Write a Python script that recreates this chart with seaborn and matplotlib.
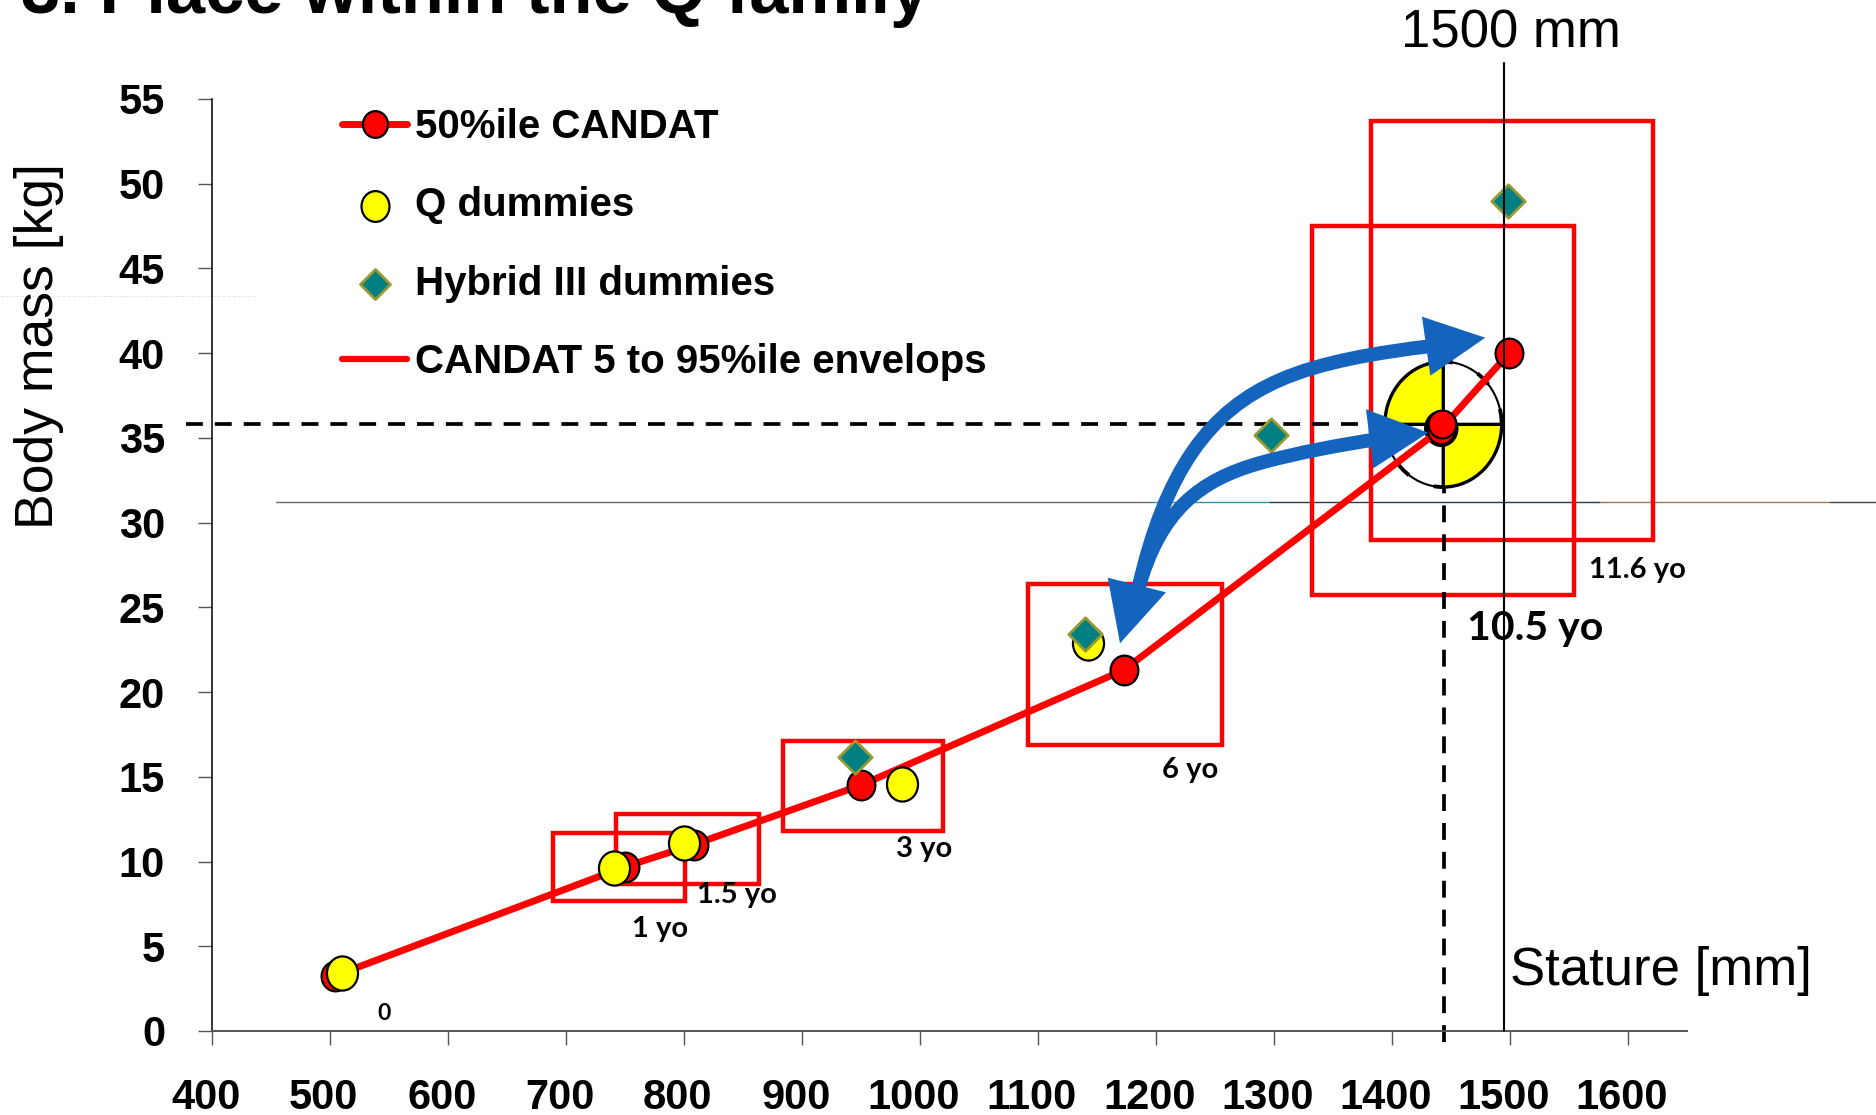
import numpy as np
import pandas as pd
import matplotlib
matplotlib.use('Agg')
import matplotlib.pyplot as plt
import matplotlib.transforms as mtransforms
from matplotlib.lines import Line2D
from matplotlib.markers import MarkerStyle
from matplotlib.patches import Rectangle, Ellipse, Wedge, Arc, PathPatch, Polygon
from matplotlib.path import Path
import seaborn as sns

# values
candat_stature = [504, 750, 808, 949.5, 1172.4, 1441, 1499]
candat_mass = [3.26, 9.7, 11.0, 14.5, 21.3, 35.5, 40.0]
q_stature = [510, 740, 799.5, 984.5, 1142]
q_mass = [3.4, 9.6, 11.1, 14.6, 22.9]
hybrid_stature = [944.3, 1139.4, 1296.8, 1498.3]
hybrid_mass = [16.15, 23.4, 35.2, 49.0]
q10_stature = [1441.9]
q10_mass = [35.8]

# envelope boxes: 1, 1.5, 3, 6, 10.5, 11.6 yo
env_x_min = [689, 742, 883.4, 1091.5, 1332, 1382]
env_x_max = [800.8, 863.5, 1019.6, 1255.4, 1554, 1621]
env_y_min = [7.7, 8.7, 11.8, 16.9, 25.75, 29.0]
env_y_max = [11.7, 12.8, 17.1, 26.4, 47.5, 53.7]

x_ticks = list(range(400, 1700, 100))
y_ticks = list(range(0, 60, 5))

sns.set_theme(style='white')
plt.rcParams['font.family'] = ['Liberation Sans', 'DejaVu Sans']

W, H = 1876, 1115
RED = '#ff0000'
BLUE = '#1464be'
YELLOW = '#ffff00'
TEAL = '#008080'
OLIVE = '#999933'

fig = plt.figure(figsize=(W / 100, H / 100), dpi=100, facecolor='white')
ax = fig.add_axes([212.3 / W, (H - 1031) / H, 1475 / W, 932 / H])
ax.set_xlim(400, 1650)
ax.set_ylim(0, 55)

# annotation coordinates are given in image pixels, y going down
px = mtransforms.Affine2D().scale(1 / W, -1 / H).translate(0, 1) + fig.transFigure

# envelope boxes
for x0, x1, y0, y1 in zip(env_x_min, env_x_max, env_y_min, env_y_max):
    ax.add_patch(Rectangle((x0, y0), x1 - x0, y1 - y0, fill=False, edgecolor=RED,
                           linewidth=3.2, joinstyle='miter', zorder=2))

# stray thin lines left over in the slide
ax.plot([276, 1150], [502, 502], transform=px, color='#666666', lw=1, clip_on=False, zorder=1)
ax.plot([1150, 1270], [502, 502], transform=px, color='#2f95a8', lw=1, clip_on=False, zorder=1)
ax.plot([1270, 1600], [502, 502], transform=px, color='#2c3a45', lw=1, clip_on=False, zorder=1)
ax.plot([1600, 1830], [502, 502], transform=px, color='#a07a50', lw=1, clip_on=False, zorder=1)
ax.plot([1830, 1876], [502, 502], transform=px, color='#444444', lw=1, clip_on=False, zorder=1)
ax.plot([0, 255], [296, 296], transform=px, color='#e6e6e6', lw=0.7, ls='--', clip_on=False, zorder=1)

# dashed guides
ax.plot([378, 1441], [35.8, 35.8], color='black', lw=2.7, ls=(0, (4.5, 3.2)),
        dash_capstyle='butt', clip_on=False, zorder=2.5)

# crash-test target for the 10.5 yo
cx, cy, rx, ry = 1443.2, 35.8, 49.5, 3.7
target = mtransforms.Affine2D().scale(rx, ry).translate(cx, cy) + ax.transData
for a, b in [(90, 180), (270, 360)]:
    ax.add_patch(Wedge((0, 0), 1, a, b, facecolor=YELLOW, edgecolor='black',
                       linewidth=2.4, transform=target, zorder=2.6))
for a, b in [(0, 90), (180, 270)]:
    ax.add_patch(Arc((0, 0), 2, 2, theta1=a, theta2=b, edgecolor='black',
                     linewidth=1.5, transform=target, zorder=2.6))
    ax.add_patch(Arc((0, 0), 2, 2, theta1=a, theta2=b, edgecolor='black', linewidth=2.8,
                     ls=(0, (4, 7)), transform=target, zorder=2.6))
ax.add_patch(Ellipse((1441.5, 35.55), 28, 2.1, facecolor='black', edgecolor='black', zorder=2.7))

ax.plot([1444.2, 1444.2], [-0.65, 35.8], color='black', lw=2.7, ls=(0, (4.5, 3.2)),
        dash_capstyle='butt', clip_on=False, zorder=2.5)

# series
sns.lineplot(x=candat_stature, y=candat_mass, ax=ax, estimator=None, sort=False, color=RED,
             linewidth=5, marker=MarkerStyle('o', transform=mtransforms.Affine2D().scale(1, 1.07)),
             markersize=20, markerfacecolor=RED, markeredgecolor='black', markeredgewidth=1.6,
             label='50%ile CANDAT', zorder=3)
sns.scatterplot(x=q10_stature, y=q10_mass, ax=ax, color=RED, edgecolor='black', linewidth=1.6,
                s=400, zorder=3.1, legend=False)
sns.scatterplot(x=q_stature, y=q_mass, ax=ax, color=YELLOW, edgecolor='black', linewidth=1.6,
                marker=MarkerStyle('o', transform=mtransforms.Affine2D().scale(1, 1.1)),
                s=500, zorder=4, label='Q dummies')
sns.scatterplot(x=hybrid_stature, y=hybrid_mass, ax=ax, color=TEAL, edgecolor=OLIVE, linewidth=2,
                marker='D', s=290, zorder=5, label='Hybrid III dummies')

# blue double arrow
arrow_upper = Path([(1138, 590), (1165, 470), (1210, 410), (1280, 380),
                    (1320, 362), (1380, 352), (1432, 346)],
                   [Path.MOVETO] + [Path.CURVE4] * 6)
arrow_lower = Path([(1138, 590), (1160, 510), (1200, 480), (1260, 463),
                    (1300, 452), (1340, 445), (1378, 439)],
                   [Path.MOVETO] + [Path.CURVE4] * 6)
for p in [arrow_upper, arrow_lower]:
    ax.add_patch(PathPatch(p, facecolor='none', edgecolor=BLUE, linewidth=10, capstyle='butt',
                           transform=px, clip_on=False, zorder=6))
for head in [[(1422, 316.7), (1430.3, 375.7), (1485.3, 337.7)],
             [(1366, 409.3), (1373.3, 468.3), (1428.3, 432.7)],
             [(1107.7, 577.7), (1166, 592.3), (1120, 643.3)]]:
    ax.add_patch(Polygon(head, closed=True, facecolor=BLUE, edgecolor='none', transform=px,
                         clip_on=False, zorder=6))

# 1500 mm line
ax.plot([1504, 1504], [62.5, 1031], transform=px, color='black', lw=1.5, clip_on=False, zorder=7)

# axes
sns.despine(ax=ax)
ax.spines['left'].set_color('black')
ax.spines['left'].set_linewidth(1.1)
ax.spines['bottom'].set_color('#555555')
ax.spines['bottom'].set_linewidth(1.4)
ax.set_xticks(x_ticks)
ax.set_yticks(y_ticks)
ax.tick_params(axis='x', direction='out', length=10, width=1, color='#555555', pad=24,
               bottom=True)
ax.tick_params(axis='y', direction='out', length=10, width=1, color='#555555', pad=24,
               left=True)
shift = mtransforms.ScaledTranslation(-6.5 / 100, 0, fig.dpi_scale_trans)
for lab in ax.get_xticklabels():
    lab.set_fontsize(30)
    lab.set_fontweight('bold')
    lab.set_color('black')
    lab.set_transform(lab.get_transform() + shift)
for lab in ax.get_yticklabels():
    lab.set_fontsize(30)
    lab.set_fontweight('bold')
    lab.set_color('black')

# legend
handles, labels = ax.get_legend_handles_labels()
handles.append(Line2D([], [], color=RED, lw=4.5))
labels.append('CANDAT 5 to 95%ile envelops')
leg = ax.legend(handles, labels, loc='upper left', bbox_to_anchor=(342 / W, 1 - 108 / H),
                bbox_transform=fig.transFigure, frameon=False, borderpad=0, borderaxespad=0,
                handlelength=1.62, handletextpad=0.2, labelspacing=1.0, markerscale=0.9,
                prop={'size': 29, 'weight': 'bold'})
for t in leg.get_texts():
    t.set_color('black')

# texts
fig.text(21 / W, 1 - 13 / H, '3. Place within the Q family', fontsize=50.8, fontweight='bold',
         color='black', ha='left', va='baseline')
ax.text(1401, 47, '1500 mm', transform=px, fontsize=38, color='black', ha='left', va='baseline',
        clip_on=False)
ax.text(1510, 985, 'Stature [mm]', transform=px, fontsize=38, color='black', ha='left',
        va='baseline', clip_on=False)
ax.text(53, 346, 'Body mass [kg]', transform=px, fontsize=38.5, color='black', rotation=90,
        ha='center', va='baseline', rotation_mode='anchor', clip_on=False)

age_labels = ['0', '1 yo', '1.5 yo', '3 yo', '6 yo', '11.6 yo', '10.5 yo']
age_left = [377.7, 631.6, 697, 896, 1162, 1589, 1467]
age_base = [1020, 936.7, 902.7, 856.7, 778, 578, 640]
age_size = [16.5, 21, 21, 21, 21, 21, 29.5]
for s, x, y, fs in zip(age_labels, age_left, age_base, age_size):
    ax.text(x, y, s, transform=px, family=['Lato', 'DejaVu Sans'], fontweight='bold', fontsize=fs,
            color='black', ha='left', va='baseline', clip_on=False, zorder=6.5)

fig.savefig('out.png', dpi=100)
